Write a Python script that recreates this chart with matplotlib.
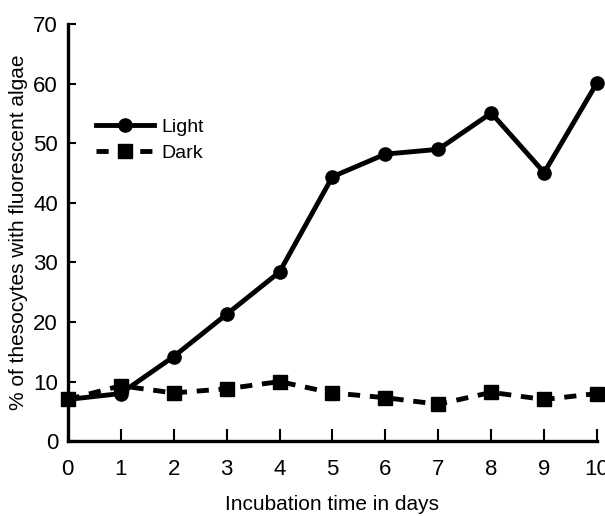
import numpy as np
from matplotlib import pyplot as plt

days = [0, 1, 2, 3, 4, 5, 6, 7, 8, 9, 10]
light = [7, 8, 14.2, 21.3, 28.4, 44.4, 48.2, 49, 55.1, 45.1, 60.2]
dark = [7, 9.3, 8.1, 8.8, 10, 8.1, 7.3, 6.2, 8.2, 7, 8]

plt.rcParams['font.family'] = ['Liberation Sans', 'DejaVu Sans']

fig = plt.figure(figsize=(6.05, 5.16), dpi=100)
ax = fig.add_axes([0.112, 0.145, 0.875, 0.808])

ax.plot(days, light, '-', color='black', lw=3.5, marker='o', ms=9.5, label='Light', clip_on=False)
ax.plot(days, dark, '--', color='black', lw=3.5, marker='s', ms=9.5, dashes=(2.5, 2), label='Dark', clip_on=False)

ax.set_xlim(0, 10)
ax.set_ylim(0, 70)
ax.set_xticks(days)
ax.set_yticks(np.arange(0, 71, 10))
ax.tick_params(axis='x', direction='in', length=8.5, width=1.5, labelsize=16, pad=12.5)
ax.tick_params(axis='y', direction='in', length=6, width=1.5, labelsize=16, pad=7)
for s in ['top', 'right']:
    ax.spines[s].set_visible(False)
for s in ['left', 'bottom']:
    ax.spines[s].set_linewidth(2.4)

ax.set_xlabel('Incubation time in days', fontsize=15, labelpad=11)
ax.set_ylabel('% of thesocytes with fluorescent algae', fontsize=15, labelpad=4)

ax.legend(loc='center left', bbox_to_anchor=(0.035, 0.722), frameon=False, fontsize=14,
          handlelength=3.0, handletextpad=0.35, labelspacing=0.45, borderpad=0)

fig.savefig('out.png', dpi=100)
